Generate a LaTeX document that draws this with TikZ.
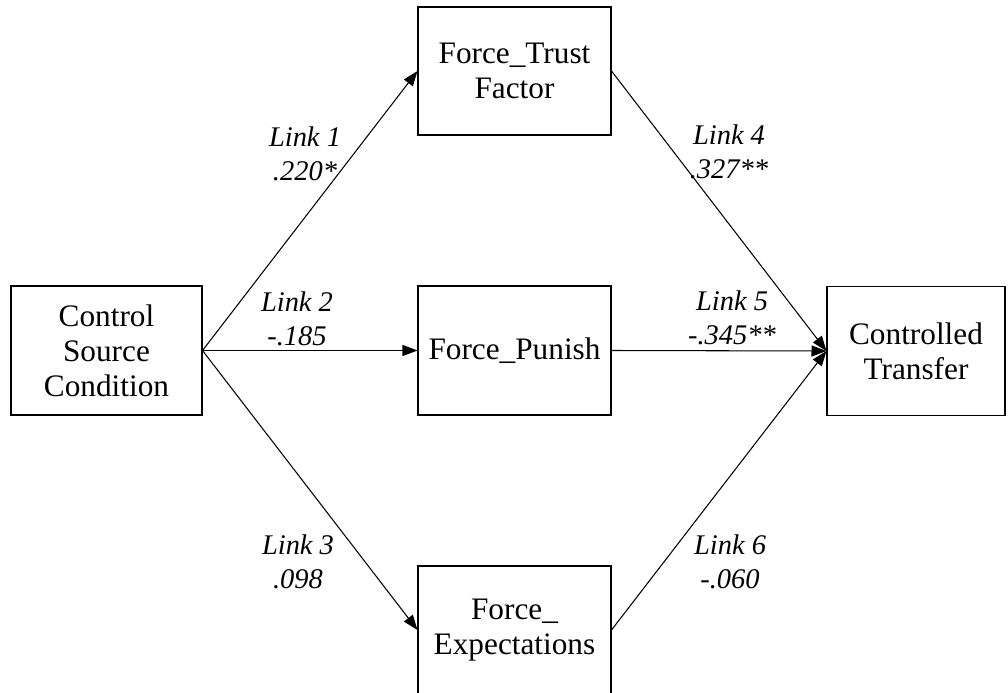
\documentclass[tikz,border=0pt]{standalone}
\usepackage{fontspec}
\setmainfont{Liberation Serif}
\usetikzlibrary{arrows.meta}

\begin{document}
\begin{tikzpicture}[x=0.02cm,y=-0.02cm,
  box/.style={draw,line width=0.6pt,inner sep=0pt,align=center,minimum height=2.58cm,font=\fontsize{17.8}{19.9}\selectfont},
  link/.style={align=center,font=\fontsize{16.2}{19.3}\selectfont\itshape},
  conn/.style={line width=0.6pt,-{Triangle[length=0.3cm,width=0.22cm]}}]
\useasboundingbox (0,0) rectangle (1008,693);
\node[box,minimum width=3.82cm] (src) at (106.5,350.5) {Control\\Source\\Condition};
\node[box,minimum width=3.86cm,minimum height=2.56cm] (trust) at (514.5,71) {Force\_Trust\\Factor};
\node[box,minimum width=3.86cm] (punish) at (514.5,350.5) {Force\_Punish};
\node[box,minimum width=3.86cm,minimum height=2.56cm] (expect) at (514.5,630) {Force\_\\Expectations};
\node[box,minimum width=3.56cm] (transfer) at (916,351) {Controlled\\Transfer};
\draw[conn] (src.east) -- (trust.west);
\draw[conn] (src.east) -- (punish.west);
\draw[conn] (src.east) -- (expect.west);
\draw[conn] (trust.east) -- (transfer.west);
\draw[conn] (punish.east) -- (transfer.west);
\draw[conn] (expect.east) -- (transfer.west);
\node[link] (l1) at (305,154) {Link 1\\.220*};
\node[link] (l2) at (297,319) {Link 2\\-.185};
\node[link] (l3) at (298,562) {Link 3\\.098};
\node[link] (l4) at (729,152) {Link 4\\.327**};
\node[link] (l5) at (732,318) {Link 5\\-.345**};
\node[link] (l6) at (730,562) {Link 6\\-.060};
\end{tikzpicture}
\end{document}
